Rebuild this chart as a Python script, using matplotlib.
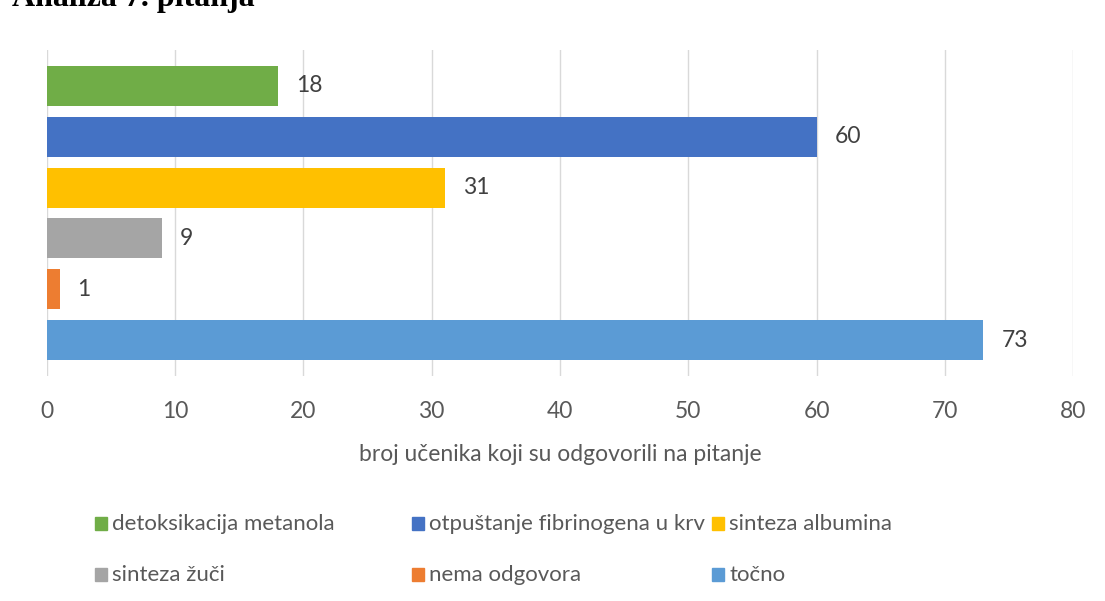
import matplotlib
matplotlib.use("Agg")
import matplotlib.pyplot as plt
from matplotlib.patches import Rectangle

categories = ["detoksikacija metanola", "otpuštanje fibrinogena u krv", "sinteza albumina",
              "sinteza žuči", "nema odgovora", "točno"]
values = [18, 60, 31, 9, 1, 73]
colors = ["#70AD47", "#4472C4", "#FFC000", "#A5A5A5", "#ED7D31", "#5B9BD5"]
xticks = [0, 10, 20, 30, 40, 50, 60, 70, 80]
title = "Analiza 7. pitanja"
xlabel = "broj učenika koji su odgovorili na pitanje"

plt.rcParams['font.family'] = ['Lato', 'DejaVu Sans']
W, H = 1105, 601
fig = plt.figure(figsize=(W/100, H/100), dpi=100)
ax = fig.add_axes([46.7/W, 1 - 376/H, (1073.3-46.7)/W, 326/H])

n = len(values)
ypos = list(range(n))
ax.barh(ypos, values, height=0.787, color=colors, zorder=3)
pad_units = 0.208
ax.set_ylim(n - 0.5 + pad_units, -0.5 - pad_units)
ax.set_xlim(0, 80)
ax.set_xticks(xticks)
ax.set_xticklabels([str(t) for t in xticks])
ax.set_yticks([])
ax.grid(axis='x', color='#D9D9D9', linewidth=1, zorder=0)
for s in ax.spines.values():
    s.set_visible(False)
ax.tick_params(axis='x', length=0, pad=18, labelsize=16.5, labelcolor='#595959')
ax.set_xlabel(xlabel, fontsize=16.5, color='#595959', labelpad=16)

for y, v in zip(ypos, values):
    ax.annotate(str(v), (v, y), xytext=(13, 0), textcoords='offset points',
                va='center', ha='left', fontsize=16.5, color='#404040')

fig.text(12/W, 1 - 6/H, title, family='Liberation Serif', weight='bold',
         fontsize=23, va='baseline', ha='left', color='black')

# legend: 2 rows x 3 columns
col_x = [95, 412, 712]
row_y = [524, 575]
for i, (lab, c) in enumerate(zip(categories, colors)):
    r, col = divmod(i, 3)
    x0 = col_x[col]
    yc = row_y[r]
    fig.patches.append(Rectangle((x0/W, 1 - (yc + 6)/H), 12/W, 13/H,
                                 transform=fig.transFigure, color=c))
    fig.text((x0 + 17)/W, 1 - yc/H, lab, fontsize=16, color='#595959',
             va='center', ha='left')

fig.savefig("out.png", dpi=100)
